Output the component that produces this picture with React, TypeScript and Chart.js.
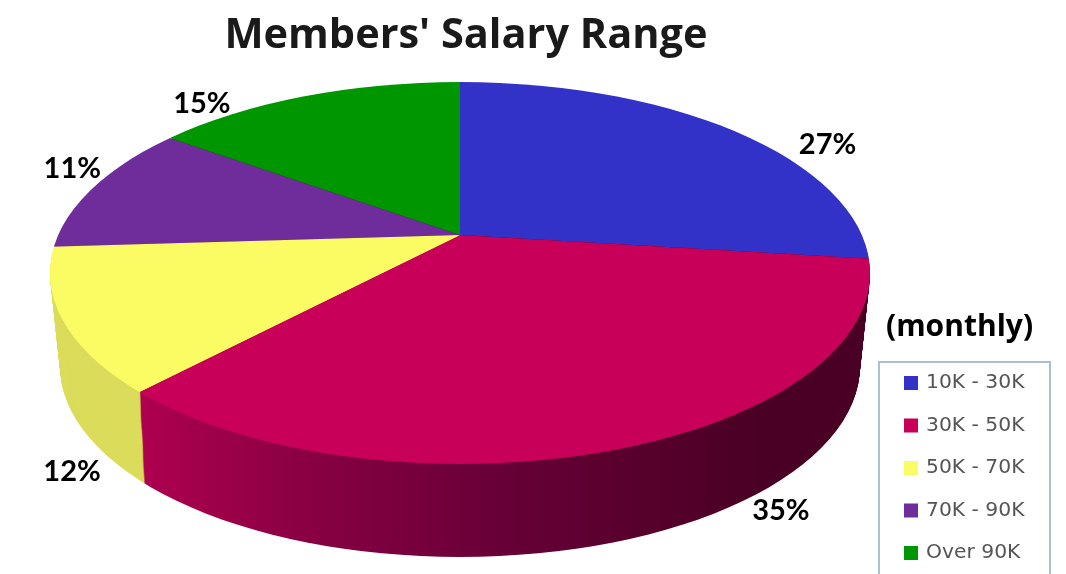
import React, { useEffect, useRef } from "react";
import { Chart, registerables } from "chart.js";

Chart.register(...registerables);

const categories = ["10K - 30K", "30K - 50K", "50K - 70K", "70K - 90K", "Over 90K"];
const shares = [27, 35, 12, 11, 15];
const topColors = ["#3232C8", "#C8005A", "#FBFB64", "#6E2D9B", "#009600"];
const titleText = "Members' Salary Range";
const noteText = "(monthly)";

// layout of the tilted pie
const APEX_X = 460, APEX_Y = 235;
const ELL_Y = 273, ELL_RX = 410, ELL_RY = 191;
const WEDGE_RX = 640, TILT = 0.46;
const DEPTH = 93, TAPER = 10;
const labelOffsets = [[60, -2], [182, 58], [-17, 117], [6, -51], [-72, 1]];

const plainOptions = (c: any) => ({
  backgroundColor: c, borderColor: c, borderWidth: 0, offset: 0, spacing: 0,
  circular: true, borderRadius: 0, borderAlign: "center", borderJoinStyle: "round",
});

const drawLayer = (ctx: any, arcs: any[], off: number, rx: number, ry: number, colors: any[]) => {
  ctx.save();
  ctx.beginPath();
  ctx.ellipse(APEX_X, ELL_Y + off, rx, ry, 0, 0, Math.PI * 2);
  ctx.clip();
  arcs.forEach((arc, i) => {
    const k = WEDGE_RX / arc.outerRadius;
    ctx.save();
    ctx.translate(APEX_X, APEX_Y + off);
    ctx.scale(k, k * TILT);
    ctx.translate(-arc.x, -arc.y);
    const view = Object.create(arc);
    Object.defineProperty(view, "options", { value: plainOptions(colors[i]) });
    view.draw(ctx);
    ctx.restore();
  });
  ctx.restore();
};

const pie3d = {
  id: "pie3d",
  beforeDatasetsDraw(chart: any) {
    const ctx = chart.ctx;
    const arcs = chart.getDatasetMeta(0).data;
    const k = WEDGE_RX / arcs[0].outerRadius;
    const localX = (x: number) => arcs[0].x + (x - APEX_X) / k;
    const grad = ctx.createLinearGradient(localX(142), 0, localX(760), 0);
    grad.addColorStop(0, "#AE004F");
    grad.addColorStop(0.3, "#850041");
    grad.addColorStop(0.6, "#660036");
    grad.addColorStop(1, "#4A0024");
    const sideColors = ["#4A0024", grad, "#DCDC5C", "#DCDC5C", "#4A0024"];
    for (let off = DEPTH; off >= 1; off--) {
      const t = off / DEPTH;
      drawLayer(ctx, arcs, off, ELL_RX - TAPER * t, ELL_RY, sideColors);
    }
    drawLayer(ctx, arcs, 0, ELL_RX, ELL_RY, topColors);
    return false;
  },
  afterDraw(chart: any) {
    const ctx = chart.ctx;
    const arcs = chart.getDatasetMeta(0).data;
    ctx.save();
    // percentage labels
    ctx.fillStyle = "#000";
    ctx.font = "bold 29px Lato";
    ctx.textAlign = "center";
    ctx.textBaseline = "middle";
    arcs.forEach((arc: any, i: number) => {
      const a = (arc.startAngle + arc.endAngle) / 2;
      const x = APEX_X + Math.cos(a) * ELL_RX + labelOffsets[i][0];
      const y = ELL_Y + Math.sin(a) * ELL_RY + labelOffsets[i][1];
      ctx.fillText(shares[i] + "%", x, y);
    });
    ctx.font = "bold 30px 'Open Sans'";
    ctx.textAlign = "left";
    ctx.fillText(noteText, 886, 327);
    // legend
    ctx.strokeStyle = "#A9C0D0";
    ctx.lineWidth = 2;
    ctx.beginPath();
    ctx.moveTo(879, 576);
    ctx.lineTo(879, 362);
    ctx.lineTo(1050, 362);
    ctx.lineTo(1050, 576);
    ctx.stroke();
    ctx.font = "20.3px 'DejaVu Sans'";
    categories.forEach((name, i) => {
      const y = 383 + i * 42.5;
      ctx.fillStyle = topColors[i];
      ctx.fillRect(904, y - 7, 14, 14);
      ctx.fillStyle = "#555555";
      ctx.filter = "blur(0.6px)";
      ctx.fillText(name, 926, y);
      ctx.filter = "none";
    });
    ctx.restore();
  },
};

export default function App() {
  const ref = useRef<HTMLCanvasElement>(null);
  useEffect(() => {
    const chart = new Chart(ref.current as any, {
      type: "pie",
      plugins: [pie3d],
      data: {
        labels: categories,
        datasets: [{ data: shares, backgroundColor: topColors, borderWidth: 0 }],
      },
      options: {
        responsive: false,
        animation: false,
        layout: { padding: { right: 134 } },
        plugins: {
          legend: { display: false },
          tooltip: { enabled: false },
          title: {
            display: true,
            text: titleText,
            fullSize: false,
            color: "#1A1A1A",
            font: { family: "Open Sans", size: 41.5, weight: "bold" },
            padding: { top: 11, bottom: 10 },
          },
        },
      },
    } as any);
    return () => chart.destroy();
  }, []);
  return (
    <div style={{ position: "absolute", left: 0, top: 0, width: 1066, height: 574, background: "#fff", overflow: "hidden" }}>
      <canvas ref={ref} width={1066} height={574} style={{ display: "block" }} />
    </div>
  );
}
